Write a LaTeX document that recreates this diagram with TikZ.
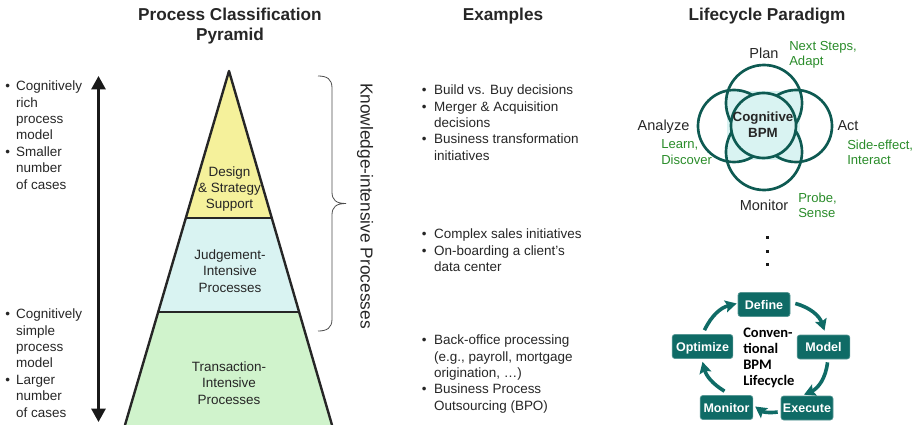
\documentclass[tikz,border=0pt]{standalone}
\usepackage{fontspec}
\setmainfont{Liberation Sans}
\newfontfamily\carlito{Carlito}
\usetikzlibrary{arrows.meta,decorations.pathreplacing,calc}
\definecolor{tealdk}{HTML}{0F6B66}
\definecolor{ringc}{HTML}{0E5A52}
\definecolor{grn}{HTML}{2A8C2A}
\definecolor{txt}{HTML}{262626}
\definecolor{pyel}{HTML}{F5F19B}
\definecolor{pcy}{HTML}{D9F3F2}
\definecolor{pgr}{HTML}{D0F3CC}
\tikzset{
 x=0.75pt,y=-0.75pt,
 title/.style={font=\bfseries\fontsize{12.9}{15.6}\selectfont,text=txt,align=center,inner sep=0},
 body/.style={font=\fontsize{10.1}{12.3}\selectfont,text=txt,inner sep=0,anchor=north west},
 ctr/.style={font=\fontsize{10.1}{12.2}\selectfont,text=txt,inner sep=0,align=center},
 gtx/.style={font=\fontsize{9.8}{11.4}\selectfont,text=grn,inner sep=0,align=left,anchor=west},
 phase/.style={font=\fontsize{10.9}{12}\selectfont,text=txt,inner sep=0},
 level/.style={draw=black!85,line width=1.8pt,line join=round},
 ring/.style={draw=ringc,line width=2pt},
 stepbox/.style={fill=tealdk,draw=tealdk!70!white,line width=0.5pt,rounded corners=2pt,text=white,font=\bfseries\fontsize{9.4}{11}\selectfont,minimum height=18pt,inner sep=0,text depth=0pt},
 flow/.style={draw=tealdk,line width=2.7pt,-{Stealth[length=8.5pt,width=9pt,inset=1.5pt]}},
}
\newcommand{\lst}[2]{\begin{tabular}[t]{@{}l@{\hspace{#1}}l@{}}#2\end{tabular}}
\begin{document}
\begin{tikzpicture}
\useasboundingbox (0,0) rectangle (918,425);
\node[title] (t1) at (230,26) {Process Classification\\Pyramid};
\node[title] (t2) at (503,16) {Examples};
\node[title] (t3) at (767,16) {Lifecycle Paradigm};
% left lists
\node[body] (l1) at (5,79) {\lst{4.7pt}{•&Cognitively\\&rich\\&process\\&model\\•&Smaller\\&number\\&of cases}};
\node[body] (l2) at (5,307) {\lst{4.7pt}{•&Cognitively\\&simple\\&process\\&model\\•&Larger\\&number\\&of cases}};
\coordinate (atop) at (98.5,76);
\coordinate (abot) at (98.5,422);
\draw[draw=black!90,line width=2pt,{Triangle[length=10pt,width=10.5pt]}-{Triangle[length=10pt,width=10.5pt]}] (atop) -- (abot);
% pyramid
\coordinate (apex) at (229,71);
\coordinate (al) at (186,218);
\coordinate (ar) at (272,218);
\coordinate (bl) at (158,312);
\coordinate (br) at (299,312);
\coordinate (cl) at (125,425);
\coordinate (cr) at (332,425);
\fill[pgr] (bl)--(br)--(cr)--(cl)--cycle;
\fill[pcy] (al)--(ar)--(br)--(bl)--cycle;
\fill[pyel] (apex)--(ar)--(al)--cycle;
\draw[level] (cl)--(apex)--(cr);
\draw[level] (al)--(ar);
\draw[level] (bl)--(br);
\node[ctr] (p1) at (229.5,189) {Design\\\& Strategy\\Support};
\node[ctr] (p2) at (230,271) {Judgement-\\Intensive\\Processes};
\node[ctr] (p3) at (229,383) {Transaction-\\Intensive\\Processes};
% brace
\draw[draw=black!70,line width=0.6pt] (318,76) .. controls (327,76) and (332,79) .. (332,88) -- (332,192) .. controls (332,200) and (336,203.5) .. (346,203.5) .. controls (336,203.5) and (332,207) .. (332,215) -- (332,319) .. controls (332,328) and (327,331) .. (318,331);
\node[font=\fontsize{13}{15}\selectfont,text=txt,inner sep=0,rotate=-90] (ki) at (365,206) {Knowledge-intensive Processes};
% middle lists
\node[body] (m1) at (421.5,83) {\lst{5.8pt}{•&Build vs. Buy decisions\\•&Merger \& Acquisition\\&decisions\\•&Business transformation\\&initiatives}};
\node[body] (m2) at (421.5,227) {\lst{5.8pt}{•&Complex sales initiatives\\•&On-boarding a client’s\\&data center}};
\node[body] (m3) at (421.5,333) {\lst{5.8pt}{•&Back-office processing\\&(e.g., payroll, mortgage\\&origination, …)\\•&Business Process\\&Outsourcing (BPO)}};
% rings
\fill[pcy] (727,91) rectangle (800,160);
\draw[ring] (764,103) circle[radius=38];
\draw[ring] (734,126) circle[radius=36];
\draw[ring] (796,126) circle[radius=36];
\draw[ring] (764,152) circle[radius=38];
\draw[ring,fill=pcy] (763.5,125.5) circle[radius=32.5];
\node[font=\bfseries\fontsize{10}{12.2}\selectfont,text=txt,align=center,inner sep=0] (cb) at (763,125) {Cognitive\\BPM};
\node[phase] (n1) at (764,53) {Plan};
\node[phase] (n2) at (663.5,127) {Analyze};
\node[phase] (n3) at (848,126) {Act};
\node[phase] (n4) at (764,205) {Monitor};
\node[gtx] (g1) at (789,54.5) {Next Steps,\\Adapt};
\node[gtx] (g2) at (661,152) {Learn,\\Discover};
\node[gtx] (g3) at (847,152) {Side-effect,\\Interact};
\node[gtx] (g4) at (798,205) {Probe,\\Sense};
% dots
\foreach \yy/\nm in {237/a,251/b,264/c} \fill[black!90] (765.5,\yy-1.5) rectangle (768.5,\yy+1.5);
% lifecycle
\node[stepbox,minimum width=39pt] (d) at (764,304.5) {Define};
\node[stepbox,minimum width=39.5pt] (mo) at (823.5,347) {Model};
\node[stepbox,minimum width=39pt] (e) at (807,408) {Execute};
\node[stepbox,minimum width=39.5pt] (mn) at (726.5,407.5) {Monitor};
\node[stepbox,minimum width=45.5pt] (o) at (702.5,346.5) {Optimize};
\draw[flow] ($(d.east)+(5,-1)$) to[bend left=28] ($(mo.north)+(1,-4)$);
\draw[flow] ($(mo.south)+(4,3)$) to[bend left=30] ($(e.north)+(-3,-1)$);
\draw[flow] ($(e.west)+(-3,4)$) to[bend left=22] ($(mn.east)+(2,-1)$);
\draw[flow] ($(mn.north)+(-2,-4)$) to[bend left=22] ($(o.south)+(0,3)$);
\draw[flow] ($(o.north)+(2,-4)$) to[bend left=25] ($(d.west)+(-1,-1)$);
\node[font=\carlito\bfseries\fontsize{10.9}{11.9}\selectfont,text=black,align=left,inner sep=0,anchor=north west] (cl2) at (743,328) {Conven-\\tional\\BPM\\Lifecycle};
\end{tikzpicture}
\end{document}
